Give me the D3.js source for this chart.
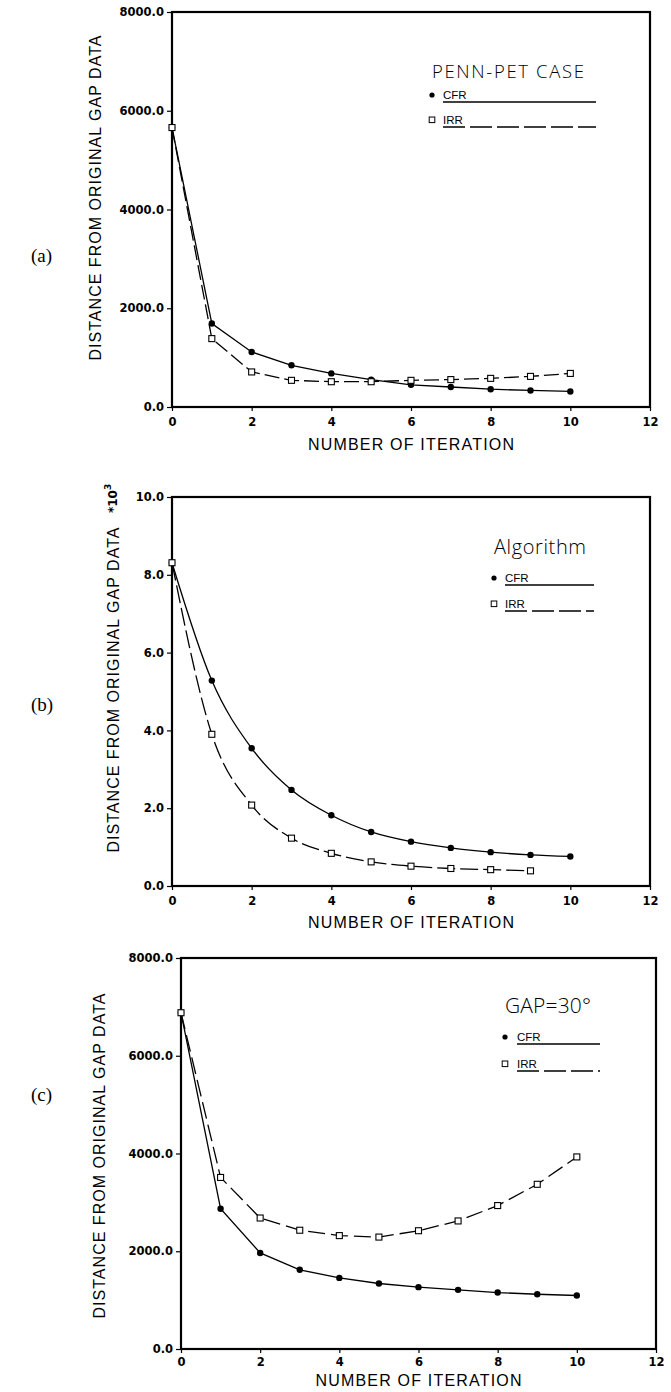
<!DOCTYPE html>
<html>
<head>
<meta charset="utf-8">
<script src="https://cdn.jsdelivr.net/npm/d3@7"></script>
<style>
body{margin:0;background:#fff}
svg{display:block}
</style>
</head>
<body>
<div class="chart"></div>
<script>
// values
const iterations = [0,1,2,3,4,5,6,7,8,9,10];
const cfrA = [5660, 1690, 1115, 845, 680, 555, 450, 405, 360, 335, 315];
const irrA = [5660, 1385, 710, 540, 512, 512, 540, 555, 580, 620, 680];
const cfrB = [8.31, 5.28, 3.54, 2.47, 1.82, 1.39, 1.14, 0.98, 0.87, 0.80, 0.76];
const irrB = [8.31, 3.90, 2.08, 1.23, 0.84, 0.62, 0.51, 0.45, 0.42, 0.39];
const cfrC = [6880, 2870, 1965, 1620, 1455, 1340, 1265, 1210, 1155, 1120, 1095];
const irrC = [6880, 3510, 2680, 2430, 2320, 2290, 2420, 2620, 2935, 3370, 3930];
const xTicks = [0,2,4,6,8,10,12];
const yTicksA = [0,2000,4000,6000,8000];
const yTicksB = [0,2,4,6,8,10];
const yTicksC = [0,2000,4000,6000,8000];
const seriesNames = ['CFR','IRR'];
const panelLabels = ['(a)','(b)','(c)'];
const legendTitles = ['PENN-PET CASE','Algorithm','GAP=30°'];
const xTitle = 'NUMBER OF ITERATION';
const yTitle = 'DISTANCE FROM ORIGINAL GAP DATA';

const width = 671, height = 1392;
const svg = d3.select('.chart').append('svg')
	.attr('width', width)
	.attr('height', height);

const panels = [
	{label: panelLabels[0], title: legendTitles[0], cfr: cfrA, irr: irrA, yTicks: yTicksA, ymax: 8000,
	 left: 172, right: 650, top: 12, bottom: 407, curve: d3.curveLinear, dash: '15,5',
	 xPad: 7, xTitleOff: 43, yTitleX: 101, yTitleY: 198, labelY: 262,
	 leg: {tx: 432, ty: 78, tsize: 18.5, tlen: 152, mx: 432, lx: 443, lend: 596, r1: 102, r2: 127}},
	{label: panelLabels[1], title: legendTitles[1], cfr: cfrB, irr: irrB, yTicks: yTicksB, ymax: 10,
	 left: 172, right: 650, top: 497, bottom: 886, curve: d3.curveMonotoneX, dash: '18,5',
	 xPad: 7, xTitleOff: 42, yTitleX: 119, yTitleY: 690, labelY: 711,
	 leg: {tx: 494, ty: 554, tsize: 20, tlen: 92, mx: 494, lx: 505, lend: 594, r1: 585, r2: 611}},
	{label: panelLabels[2], title: legendTitles[2], cfr: cfrC, irr: irrC, yTicks: yTicksC, ymax: 8000,
	 left: 181, right: 656, top: 958, bottom: 1349, curve: d3.curveLinear, dash: '17,6',
	 xPad: 5, xTitleOff: 37, yTitleX: 105, yTitleY: 1156, labelY: 1101,
	 leg: {tx: 505, ty: 1013, tsize: 21, tlen: 86, mx: 505, lx: 517, lend: 600, r1: 1044, r2: 1071}}
];

panels.forEach((p, k) => {
	const g = svg.append('g');
	const x = d3.scaleLinear().domain([0, 12]).range([p.left, p.right]);
	const y = d3.scaleLinear().domain([0, p.ymax]).range([p.bottom, p.top]);

	// axes
	const ya = g.append('g')
		.attr('transform', `translate(${p.left},0)`)
		.call(d3.axisLeft(y).tickValues(p.yTicks).tickFormat(d3.format('.1f')).tickSize(5).tickSizeOuter(0).tickPadding(3));
	const xa = g.append('g')
		.attr('transform', `translate(0,${p.bottom})`)
		.call(d3.axisBottom(x).tickValues(xTicks).tickFormat(d3.format('d')).tickSize(4).tickSizeOuter(0).tickPadding(p.xPad));
	[ya, xa].forEach(a => {
		a.select('.domain').remove();
		a.selectAll('line').attr('stroke', '#000').attr('stroke-width', 1.2);
		a.selectAll('text')
			.attr('fill', '#000')
			.attr('font-family', 'DejaVu Sans')
			.attr('font-weight', 'bold')
			.attr('font-size', 11.5);
	});

	// frame
	g.append('rect')
		.attr('x', p.left).attr('y', p.top)
		.attr('width', p.right - p.left).attr('height', p.bottom - p.top)
		.attr('fill', 'none').attr('stroke', '#000').attr('stroke-width', 2.2);

	// titles
	g.append('text')
		.attr('x', (p.left + p.right) / 2)
		.attr('y', p.bottom + p.xTitleOff)
		.attr('text-anchor', 'middle')
		.attr('font-family', 'Liberation Sans')
		.attr('font-size', 16)
		.attr('textLength', 206)
		.attr('lengthAdjust', 'spacing')
		.text(xTitle);

	g.append('text')
		.attr('transform', `translate(${p.yTitleX},${p.yTitleY}) rotate(-90)`)
		.attr('text-anchor', 'middle')
		.attr('font-family', 'Liberation Sans')
		.attr('font-size', 16)
		.attr('textLength', 325)
		.attr('lengthAdjust', 'spacing')
		.text(yTitle);

	g.append('text')
		.attr('x', 31).attr('y', p.labelY)
		.attr('font-family', 'Liberation Serif')
		.attr('font-size', 19)
		.text(p.label);

	if (k == 1) {
		const t = g.append('text')
			.attr('transform', `translate(117,513) rotate(-90)`)
			.attr('font-family', 'DejaVu Sans')
			.attr('font-weight', 'bold')
			.attr('font-size', 12)
			.text('*10');
		t.append('tspan').attr('dy', -6).attr('font-size', 9).text('3');
	}

	// series
	const pts = arr => arr.map((v, i) => ({x: iterations[i], y: v}));
	const line = d3.line().x(d => x(d.x)).y(d => y(d.y)).curve(p.curve);

	g.append('path')
		.datum(pts(p.cfr))
		.attr('d', line)
		.attr('fill', 'none').attr('stroke', '#000').attr('stroke-width', 1.3);
	g.append('path')
		.datum(pts(p.irr))
		.attr('d', line)
		.attr('fill', 'none').attr('stroke', '#000').attr('stroke-width', 1.3)
		.attr('stroke-dasharray', p.dash);

	g.selectAll('circle.cfr')
		.data(pts(p.cfr))
		.enter()
		.append('circle')
		.attr('class', 'cfr')
		.attr('cx', d => x(d.x))
		.attr('cy', d => y(d.y))
		.attr('r', 3.2)
		.attr('fill', '#000');

	g.selectAll('rect.irr')
		.data(pts(p.irr))
		.enter()
		.append('rect')
		.attr('class', 'irr')
		.attr('x', d => x(d.x) - 3)
		.attr('y', d => y(d.y) - 3)
		.attr('width', 6).attr('height', 6)
		.attr('fill', '#fff').attr('stroke', '#000').attr('stroke-width', 1.1);

	// legend
	const L = p.leg;
	g.append('text')
		.attr('x', L.tx).attr('y', L.ty)
		.attr('font-family', 'Open Sans')
		.attr('font-weight', 300)
		.attr('font-size', L.tsize)
		.attr('textLength', L.tlen)
		.attr('lengthAdjust', 'spacing')
		.text(p.title);

	seriesNames.forEach((name, i) => {
		const ly = i == 0 ? L.r1 : L.r2;
		if (i == 0) {
			g.append('circle').attr('cx', L.mx).attr('cy', ly - 7).attr('r', 2.6).attr('fill', '#000');
		} else {
			g.append('rect').attr('x', L.mx - 2.8).attr('y', ly - 10).attr('width', 5.6).attr('height', 5.6)
				.attr('fill', '#fff').attr('stroke', '#000').attr('stroke-width', 1);
		}
		g.append('text')
			.attr('x', L.lx).attr('y', ly - 3.5)
			.attr('font-family', 'Liberation Sans')
			.attr('font-size', 11.5)
			.text(name);
		g.append('line')
			.attr('x1', L.lx).attr('x2', L.lend)
			.attr('y1', ly).attr('y2', ly)
			.attr('stroke', '#000').attr('stroke-width', 1.3)
			.attr('stroke-dasharray', i == 0 ? null : '22,5');
	});
});
</script>
</body>
</html>
